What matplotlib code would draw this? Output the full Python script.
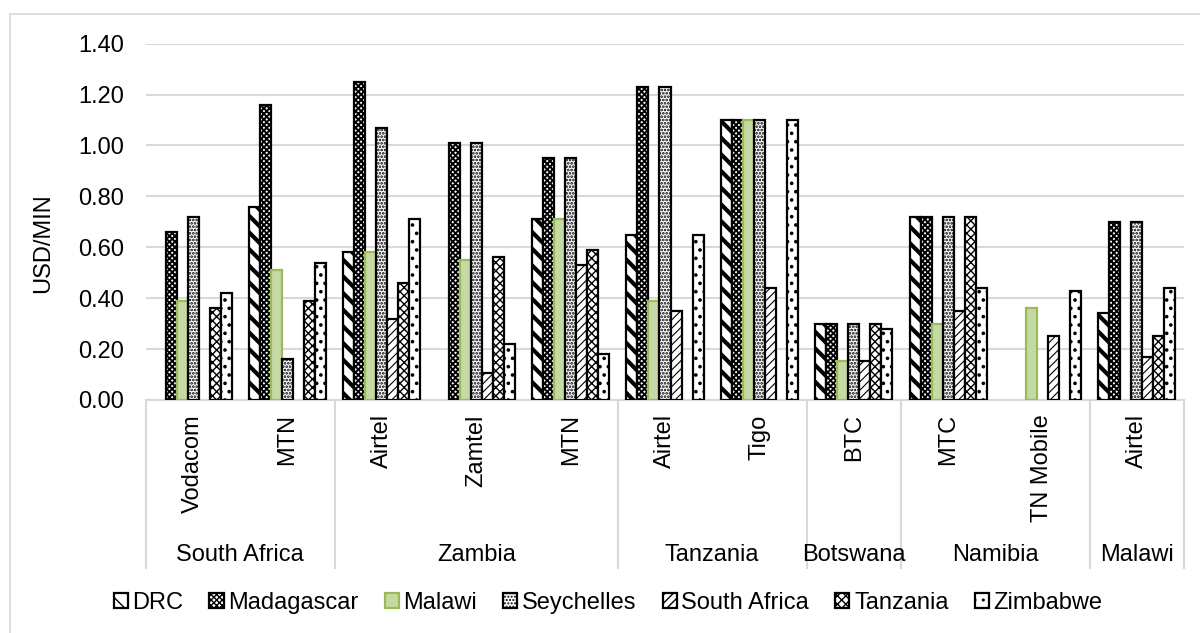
import numpy as np
import matplotlib
matplotlib.use("Agg")
import matplotlib.pyplot as plt
from matplotlib.patches import Rectangle
from matplotlib import transforms

plt.rcParams['font.family'] = ['Liberation Sans', 'DejaVu Sans']

# categories (operator, country)
operators = ["Vodacom", "MTN", "Airtel", "Zamtel", "MTN", "Airtel", "Tigo",
             "BTC", "MTC", "TN Mobile", "Airtel"]
countries = ["South Africa", "Zambia", "Tanzania", "Botswana", "Namibia", "Malawi"]
country_sizes = [2, 3, 2, 1, 2, 1]

# USD/MIN per destination, nan = no bar
nan = np.nan
DRC          = [nan, 0.76, 0.58, nan, 0.71, 0.65, 1.10, 0.30, 0.72, nan, 0.34]
Madagascar   = [0.66, 1.16, 1.25, 1.01, 0.95, 1.23, 1.10, 0.30, 0.72, nan, 0.70]
Malawi       = [0.39, 0.51, 0.58, 0.55, 0.71, 0.39, 1.10, 0.155, 0.30, 0.36, nan]
Seychelles   = [0.72, 0.16, 1.07, 1.01, 0.95, 1.23, 1.10, 0.30, 0.72, nan, 0.70]
South_Africa = [nan, nan, 0.32, 0.105, 0.53, 0.35, 0.44, 0.155, 0.35, 0.25, 0.17]
Tanzania     = [0.36, 0.39, 0.46, 0.56, 0.59, nan, nan, 0.30, 0.72, nan, 0.25]
Zimbabwe     = [0.42, 0.54, 0.71, 0.22, 0.18, 0.65, 1.10, 0.28, 0.44, 0.43, 0.44]

series = [DRC, Madagascar, Malawi, Seychelles, South_Africa, Tanzania, Zimbabwe]
names = ["DRC", "Madagascar", "Malawi", "Seychelles", "South Africa", "Tanzania", "Zimbabwe"]
yticks = [0.0, 0.2, 0.4, 0.6, 0.8, 1.0, 1.2, 1.4]

# look of each series
hatches = ['\\\\', 'xxxxxx', None, '.....', '////', 'xxxx', '..']
hatch_lw = [3.0, 1.4, 1.0, 1.3, 0.8, 1.0, 1.4]
faces = ['white', 'white', '#C4D9A3', 'white', 'white', 'white', 'white']
edges = ['black', 'black', '#9BBB59', 'black', 'black', 'black', 'black']
FS = 17

fig = plt.figure(figsize=(12, 6.33), dpi=100)
ax = fig.add_axes([146/1200, 1 - 400/633, 1038/1200, 356.3/633])

# outer chart border (only top/left are inside the picture)
fig.patches.append(Rectangle((10/1200, -0.5), 2.0, 0.5 + (1 - 14.5/633),
                             transform=fig.transFigure, fill=False,
                             edgecolor='#D9D9D9', linewidth=1.2, zorder=0))

x = np.arange(len(operators))
w = 0.8165 / 7
for i, vals in enumerate(series):
    bars = ax.bar(x - 0.8165/2 + w*(i + 0.5), vals, width=w,
                  color=faces[i], edgecolor=edges[i], linewidth=1.6,
                  hatch=hatches[i], label=names[i], zorder=3)
    for b in bars:
        try:
            b.set_hatch_linewidth(hatch_lw[i])
        except AttributeError:
            pass

ax.set_xlim(-0.5, len(operators) - 0.5)
ax.set_ylim(0, 1.4)
ax.set_yticks(yticks)
ax.set_yticklabels(["%.2f" % t for t in yticks], fontsize=FS)
ax.tick_params(axis='y', length=0, pad=16)
ax.set_xticks([])
ax.grid(axis='y', color='#D9D9D9', linewidth=1.5, zorder=0)
for s in ['top', 'right', 'left']:
    ax.spines[s].set_visible(False)
ax.spines['bottom'].set_color('#D9D9D9')
ax.spines['bottom'].set_linewidth(1.5)
ax.set_ylabel("USD/MIN", fontsize=FS)
ax.yaxis.set_label_coords((54 - 146)/1038, (400 - 243)/356.3)

# two-level category axis
trans = transforms.blended_transform_factory(ax.transData, ax.transAxes)
for i, op in enumerate(operators):
    ax.text(i, -0.04, op, rotation=90, ha='center', va='top',
            fontsize=FS, transform=trans)
edges_pos = np.concatenate([[0], np.cumsum(country_sizes)]) - 0.5
for e in edges_pos:
    ax.plot([e, e], [0, -0.4715], color='#D9D9D9', linewidth=1.5,
            transform=trans, clip_on=False)
for c, a, b in zip(countries, edges_pos[:-1], edges_pos[1:]):
    ax.text((a + b)/2, -0.435, c, ha='center', va='center',
            fontsize=FS, transform=trans)

fig.legend(loc='center', bbox_to_anchor=(608/1200, 1 - 603/633), ncol=7,
           frameon=False, fontsize=FS, handlelength=0.6, handleheight=0.6,
           handletextpad=0.2, columnspacing=1.1)

plt.savefig('out.png', dpi=100)
